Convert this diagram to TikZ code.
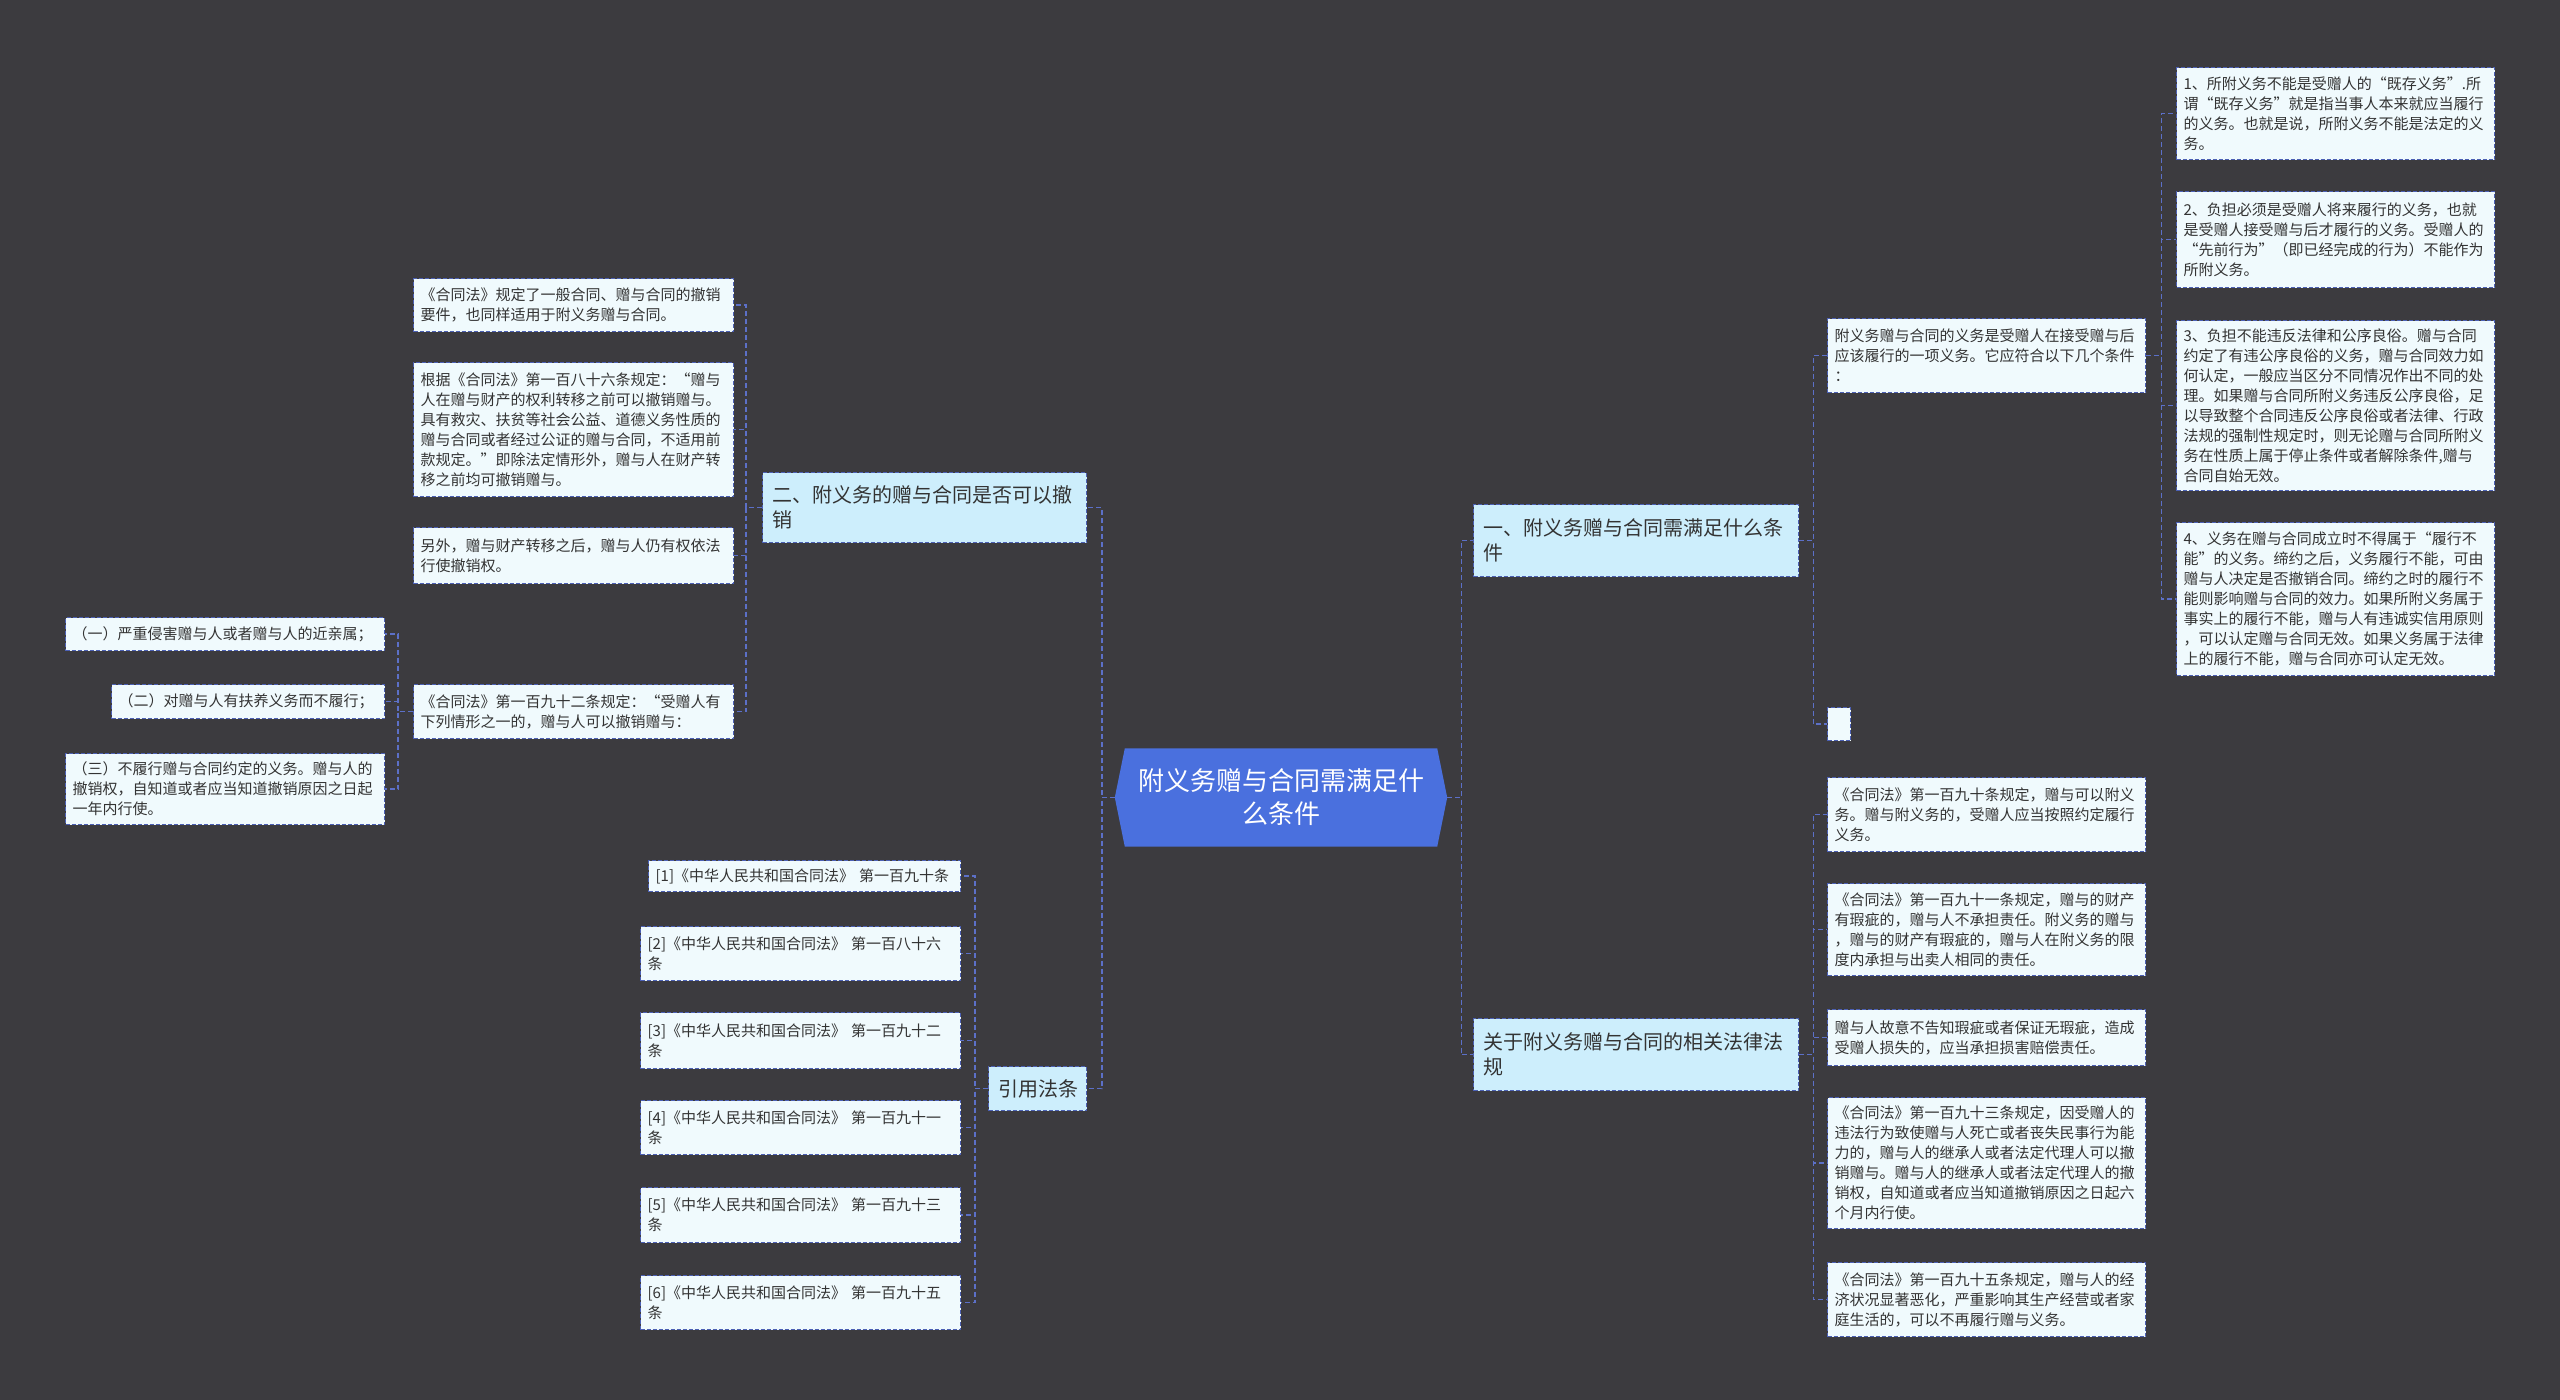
\documentclass[tikz,border=0pt]{standalone}
\usepackage{fontspec}
\setmainfont{Noto Sans CJK SC}
\newfontfamily\cjk{Noto Sans CJK SC}
\definecolor{bg}{RGB}{60,59,63}
\definecolor{hub}{RGB}{74,112,222}
\definecolor{lvl}{RGB}{205,238,252}
\definecolor{leafc}{RGB}{240,250,253}
\definecolor{bord}{RGB}{76,96,180}
\definecolor{link}{RGB}{92,112,200}
\definecolor{ink}{RGB}{51,51,51}
\tikzset{
  boxbase/.style={draw=bord, line width=1.3pt, dash pattern=on 4pt off 2pt, text=ink, anchor=north west, align=left},
  leaf/.style={boxbase, fill=leafc, font=\cjk\fontsize{15}{20}\selectfont, inner xsep=7pt, inner ysep=3pt},
  lvlbox/.style={boxbase, fill=lvl, font=\cjk\fontsize{20}{25}\selectfont, inner xsep=10pt, inner ysep=3pt},
  conn/.style={draw=link, line width=1.4pt, dash pattern=on 5pt off 3pt},
}
\begin{document}
\begin{tikzpicture}[x=1pt,y=-1pt]
\fill[bg] (0,0) rectangle (2560,1400);
\useasboundingbox (0,0) rectangle (2560,1400);

% center
\node[minimum width=332pt, minimum height=98pt, inner sep=0pt] (c) at (1281,797.5) {};
\fill[hub] ([xshift=10pt]c.north west) -- ([xshift=-10pt]c.north east) -- (c.east) -- ([xshift=-10pt]c.south east) -- ([xshift=10pt]c.south west) -- (c.west) -- cycle;
\node[text=white, font=\cjk\fontsize{26}{33}\selectfont, align=center] (ct) at (c.center) {附义务赠与合同需满足什\\么条件};

% level 1
\node[lvlbox, text width=305pt, minimum height=72pt] (n1) at (1473,504) {一、附义务赠与合同需满足什么条\\件};
\node[lvlbox, text width=305pt, minimum height=72pt] (n2) at (1473,1018) {关于附义务赠与合同的相关法律法\\规};
\node[lvlbox, text width=304pt, minimum height=70pt] (L1) at (762,472) {二、附义务的赠与合同是否可以撤\\销};
\node[lvlbox, text width=78pt, minimum height=44pt] (L2) at (988,1066) {引用法条};

% right upper
\node[leaf, text width=304pt, minimum height=74pt] (P) at (1827,318) {附义务赠与合同的义务是受赠人在接受赠与后\\应该履行的一项义务。它应符合以下几个条件\\：};
\node[leaf, text width=9pt, minimum height=33pt] (E) at (1827,707) {};
\node[leaf, text width=304pt, minimum height=92pt] (R1) at (2176,67) {1、所附义务不能是受赠人的“既存义务”.所\\谓“既存义务”就是指当事人本来就应当履行\\的义务。也就是说，所附义务不能是法定的义\\务。};
\node[leaf, text width=304pt, minimum height=96pt] (R2) at (2176,191) {2、负担必须是受赠人将来履行的义务，也就\\是受赠人接受赠与后才履行的义务。受赠人的\\“先前行为”（即已经完成的行为）不能作为\\所附义务。};
\node[leaf, text width=304pt, minimum height=170pt] (R3) at (2176,320) {3、负担不能违反法律和公序良俗。赠与合同\\约定了有违公序良俗的义务，赠与合同效力如\\何认定，一般应当区分不同情况作出不同的处\\理。如果赠与合同所附义务违反公序良俗，足\\以导致整个合同违反公序良俗或者法律、行政\\法规的强制性规定时，则无论赠与合同所附义\\务在性质上属于停止条件或者解除条件,赠与\\合同自始无效。};
\node[leaf, text width=304pt, minimum height=153pt] (R4) at (2176,522) {4、义务在赠与合同成立时不得属于“履行不\\能”的义务。缔约之后，义务履行不能，可由\\赠与人决定是否撤销合同。缔约之时的履行不\\能则影响赠与合同的效力。如果所附义务属于\\事实上的履行不能，赠与人有违诚实信用原则\\，可以认定赠与合同无效。如果义务属于法律\\上的履行不能，赠与合同亦可认定无效。};

% right lower
\node[leaf, text width=304pt, minimum height=74pt] (c1) at (1827,777) {《合同法》第一百九十条规定，赠与可以附义\\务。赠与附义务的，受赠人应当按照约定履行\\义务。};
\node[leaf, text width=304pt, minimum height=92pt] (c2) at (1827,883) {《合同法》第一百九十一条规定，赠与的财产\\有瑕疵的，赠与人不承担责任。附义务的赠与\\，赠与的财产有瑕疵的，赠与人在附义务的限\\度内承担与出卖人相同的责任。};
\node[leaf, text width=304pt, minimum height=56pt] (c3) at (1827,1009) {赠与人故意不告知瑕疵或者保证无瑕疵，造成\\受赠人损失的，应当承担损害赔偿责任。};
\node[leaf, text width=304pt, minimum height=131pt] (c4) at (1827,1097) {《合同法》第一百九十三条规定，因受赠人的\\违法行为致使赠与人死亡或者丧失民事行为能\\力的，赠与人的继承人或者法定代理人可以撤\\销赠与。赠与人的继承人或者法定代理人的撤\\销权，自知道或者应当知道撤销原因之日起六\\个月内行使。};
\node[leaf, text width=304pt, minimum height=74pt] (c5) at (1827,1262) {《合同法》第一百九十五条规定，赠与人的经\\济状况显著恶化，严重影响其生产经营或者家\\庭生活的，可以不再履行赠与义务。};

% left upper
\node[leaf, text width=306pt, minimum height=53pt] (a1) at (413,278) {《合同法》规定了一般合同、赠与合同的撤销\\要件，也同样适用于附义务赠与合同。};
\node[leaf, text width=306pt, minimum height=134pt] (a2) at (413,362) {根据《合同法》第一百八十六条规定：“赠与\\人在赠与财产的权利转移之前可以撤销赠与。\\具有救灾、扶贫等社会公益、道德义务性质的\\赠与合同或者经过公证的赠与合同，不适用前\\款规定。”即除法定情形外，赠与人在财产转\\移之前均可撤销赠与。};
\node[leaf, text width=306pt, minimum height=56pt] (a3) at (413,527) {另外，赠与财产转移之后，赠与人仍有权依法\\行使撤销权。};
\node[leaf, text width=306pt, minimum height=54pt] (a4) at (413,684) {《合同法》第一百九十二条规定：“受赠人有\\下列情形之一的，赠与人可以撤销赠与：};
\node[leaf, text width=305pt, minimum height=33pt] (b1) at (65,617) {（一）严重侵害赠与人或者赠与人的近亲属；};
\node[leaf, text width=259pt, minimum height=34pt] (b2) at (111,684) {（二）对赠与人有扶养义务而不履行；};
\node[leaf, text width=305pt, minimum height=71pt] (b3) at (65,753) {（三）不履行赠与合同约定的义务。赠与人的\\撤销权，自知道或者应当知道撤销原因之日起\\一年内行使。};

% references
\node[leaf, text width=298pt, minimum height=31pt] (r1) at (648,860) {[1]《中华人民共和国合同法》 第一百九十条};
\node[leaf, text width=306pt, minimum height=54pt] (r2) at (640,926) {[2]《中华人民共和国合同法》 第一百八十六\\条};
\node[leaf, text width=306pt, minimum height=56pt] (r3) at (640,1012) {[3]《中华人民共和国合同法》 第一百九十二\\条};
\node[leaf, text width=306pt, minimum height=54pt] (r4) at (640,1100) {[4]《中华人民共和国合同法》 第一百九十一\\条};
\node[leaf, text width=306pt, minimum height=55pt] (r5) at (640,1187) {[5]《中华人民共和国合同法》 第一百九十三\\条};
\node[leaf, text width=306pt, minimum height=54pt] (r6) at (640,1275) {[6]《中华人民共和国合同法》 第一百九十五\\条};

% connectors
\foreach \t in {n1,n2} \draw[conn] (c.east) -- ++(14,0) |- (\t.west);
\foreach \t in {P,E} \draw[conn] (n1.east) -- ++(14,0) |- (\t.west);
\foreach \t in {R1,R2,R3,R4} \draw[conn] (P.east) -- ++(15,0) |- (\t.west);
\foreach \t in {c1,c2,c3,c4,c5} \draw[conn] (n2.east) -- ++(14,0) |- (\t.west);
\foreach \t in {L1,L2} \draw[conn] (c.west) -- ++(-13,0) |- (\t.east);
\foreach \t in {a1,a2,a3,a4} \draw[conn] (L1.west) -- ++(-16,0) |- (\t.east);
\foreach \t in {b1,b2,b3} \draw[conn] (a4.west) -- ++(-15,0) |- (\t.east);
\foreach \t in {r1,r2,r3,r4,r5,r6} \draw[conn] (L2.west) -- ++(-13,0) |- (\t.east);
\end{tikzpicture}
\end{document}
